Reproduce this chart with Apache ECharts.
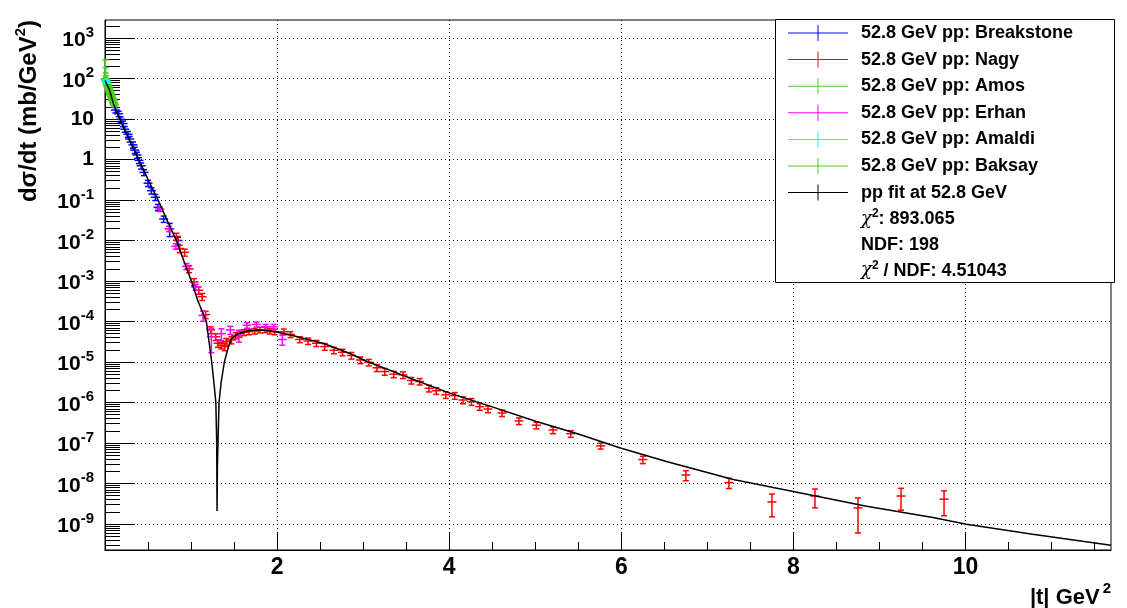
<!DOCTYPE html>
<html><head><meta charset="utf-8">
<script src="https://cdn.jsdelivr.net/npm/echarts@6/dist/echarts.min.js"></script>
<style>html,body{margin:0;padding:0;background:#fff}#c{width:1127px;height:608px}</style>
</head><body><div id="c"></div>
<script>
// ---------------- data (|t| in GeV^2, dsigma/dt in mb/GeV^2) ----------------
const breakstoneT = [0.121,0.159,0.182,0.209,0.229,0.267,0.287,0.325,0.345,0.372,0.395,0.42,0.453,0.5,0.539,0.585,0.616,0.682,0.752,0.848];
const breakstoneY = [16.6,13.5,9.8,7.7,5.6,4.2,3.2,2.3,1.7,1.29,0.95,0.70,0.48,0.26,0.17,0.117,0.066,0.034,0.0195,0.010];
const breakstoneErr = [2.5,2.0,1.5,1.2,0.9,0.7,0.5,0.4,0.3,0.22,0.16,0.12,0.08,0.045,0.03,0.02,0.012,0.006,0.007,0.002];

const nagyT = [0.83,0.868,0.926,0.977,1.035,1.09,1.13,1.17,1.228,1.286,1.313,1.352,1.391,1.41,1.469,1.519,1.565,1.615,1.674,1.74,1.80,1.86,1.914,1.972,2.077,2.155,2.263,2.36,2.457,2.553,2.66,2.76,2.863,2.968,3.065,3.16,3.25,3.355,3.463,3.56,3.657,3.765,3.85,3.96,4.064,4.16,4.258,4.355,4.45,4.614,4.81,5.013,5.206,5.412,5.76,6.25,6.75,7.25,7.75,8.25,8.75,9.25,9.75];
const nagyY = [1.26e-2,6.3e-3,5.1e-3,2.0e-3,9.5e-4,5.9e-4,4.1e-4,1.48e-4,6.2e-5,4.2e-5,2.9e-5,2.6e-5,2.4e-5,3.2e-5,3.5e-5,4.5e-5,5.0e-5,5.4e-5,5.6e-5,5.8e-5,6.2e-5,6.3e-5,5.8e-5,5.6e-5,5.6e-5,4.8e-5,3.6e-5,3.3e-5,2.9e-5,2.4e-5,1.95e-5,1.74e-5,1.45e-5,1.12e-5,9.8e-6,7.2e-6,5.8e-6,5.0e-6,4.8e-6,3.5e-6,3.3e-6,2.24e-6,1.95e-6,1.55e-6,1.48e-6,1.15e-6,1.05e-6,7.9e-7,6.9e-7,5.5e-7,3.5e-7,2.75e-7,2.1e-7,1.7e-7,8.5e-8,3.9e-8,1.62e-8,1.05e-8,3.5e-9,4.9e-9,2.5e-9,4.9e-9,4.1e-9];
const nagyErr = [2.5e-3,1.3e-3,1.0e-3,4e-4,1.9e-4,1.2e-4,8e-5,3e-5,1.2e-5,8e-6,6e-6,5e-6,5e-6,6e-6,7e-6,8e-6,9e-6,9e-6,9e-6,9e-6,1e-5,1e-5,9e-6,9e-6,9e-6,8e-6,6e-6,6e-6,5e-6,4.5e-6,3.5e-6,3.2e-6,2.7e-6,2.1e-6,1.8e-6,1.4e-6,1.1e-6,9e-7,9e-7,6.5e-7,6e-7,4.2e-7,3.6e-7,2.9e-7,2.8e-7,2.2e-7,2e-7,1.5e-7,1.3e-7,1e-7,6.5e-8,5.2e-8,4e-8,3.2e-8,1.4e-8,8e-9,4.5e-9,3e-9,2e-9,2.4e-9,1.9e-9,2.7e-9,2.5e-9];

const amosT = [0.004,0.006,0.008,0.010,0.013,0.016,0.020,0.025,0.030,0.035,0.040,0.045,0.050,0.055,0.060];
const amosY = [97,95,92,89,86,83,78,72,67,62,58,54,51,47,44];
const amosErrLo = [10,9,8,7,7,6,6,5,5,4,4,4,4,3,3];
const amosErrHi = [190,90,45,28,14,10,8,7,6,5,5,4,4,4,4];

const erhanT = [0.636,0.744,0.822,0.946,1.054,1.139,1.236,1.352,1.457,1.557,1.65,1.76,1.868,1.96,2.06];
const erhanY = [0.060,0.0195,0.0072,0.0023,7.1e-4,1.41e-4,4.2e-5,5.0e-5,6.2e-5,4.6e-5,8.1e-5,8.5e-5,7.4e-5,7.4e-5,3.6e-5];
const erhanErr = [0.008,0.003,0.0011,0.0004,1.2e-4,4e-5,2.5e-5,1.6e-5,1.4e-5,1.5e-5,1.3e-5,1.2e-5,1.1e-5,1.1e-5,1e-5];

const amaldiT = [0.010,0.020];
const amaldiY = [88,80];
const amaldiErr = [4,4];

const baksayT = [0.065,0.07,0.075,0.08,0.085,0.09,0.095,0.1,0.105,0.11];
const baksayY = [41,38,35.5,33,31,29,27,25,23.5,22];
const baksayErr = [3,3,3,2.5,2.5,2.5,2.5,2,2,2];

const fitT = [0,0.05,0.1,0.171,0.25,0.392,0.5,0.616,0.72,0.83,0.92,1.004,1.08,1.178,1.24,1.27,1.288,1.298,1.302,1.306,1.313,1.325,1.35,1.387,1.43,1.47,1.55,1.65,1.76,1.88,2.01,2.2,2.534,2.844,3.06,3.308,3.6,4.006,4.5,5.013,5.5,5.98,6.524,7.3,8.07,8.85,9.62,10.01,10.78,11.69];
const fitY = [89,54,23,10,4.2,1.0,0.32,0.1,0.032,0.01,3.0e-3,1e-3,3.2e-4,1e-4,1e-5,2.5e-6,1e-6,1e-7,2.1e-9,2.5e-8,1e-7,1e-6,3.2e-6,1e-5,2.2e-5,3.8e-5,5e-5,5.8e-5,6.2e-5,6.0e-5,5.4e-5,4.4e-5,2.9e-5,1.62e-5,1.0e-5,6.3e-6,3.6e-6,1.7e-6,7.8e-7,3.4e-7,1.66e-7,7.6e-8,3.5e-8,1.26e-8,5.9e-9,2.75e-9,1.45e-9,9.8e-10,5.6e-10,3.0e-10];

const seriesNames = ['52.8 GeV pp: Breakstone','52.8 GeV pp: Nagy','52.8 GeV pp: Amos','52.8 GeV pp: Erhan','52.8 GeV pp: Amaldi','52.8 GeV pp: Baksay','pp fit at 52.8 GeV'];
const statLines = [['χ','2',': 893.065'],['','','NDF: 198'],['χ','2',' / NDF: 4.51043']];

const xTickValues = [0,2,4,6,8,10];
const xLabelValues = [2,4,6,8,10];
const xMinorTickValues = [0.5,1,1.5,2.5,3,3.5,4.5,5,5.5,6.5,7,7.5,8.5,9,9.5,10.5,11,11.5];
const yDecades = [-9,-8,-7,-6,-5,-4,-3,-2,-1,0,1,2,3];
const yMinorFactors = [2,3,4,5,6,7,8,9];

// ---------------- setup ----------------
const X_MAX = 11.69;
const Y_MIN = -9.642, Y_MAX = 3.444;   // log10 range
const FONT = '"Liberation Sans", Arial, Helvetica, sans-serif';
const GREEN = '#4ccf1f';

const yMinor = [];
for (let n = -10; n <= 3; n++) {
  yMinorFactors.forEach(k => { const v = n + Math.log10(k); if (v > Y_MIN && v < Y_MAX) yMinor.push(v); });
}

function toLog(ts, ys, eLo, eHi) {
  return ts.map((t, i) => {
    const y = ys[i], lo = y - eLo[i];
    return [t, Math.log10(y), lo > 0 ? Math.log10(lo) : Y_MIN, Math.log10(y + eHi[i])];
  });
}

function makeRender(markerSize) {
  return function (params, api) {
    const t = api.value(0);
    const p = api.coord([t, api.value(1)]);
    const pl = api.coord([t, api.value(2)]);
    const ph = api.coord([t, api.value(3)]);
    const col = api.visual('color');
    const hw = 4.5, cw = 3;
    const st = () => ({ stroke: col, lineWidth: 1.5 });
    const kids = [
      { type: 'line', shape: { x1: p[0] - hw, y1: p[1], x2: p[0] + hw, y2: p[1] }, style: st() },
      { type: 'line', shape: { x1: p[0], y1: pl[1], x2: p[0], y2: ph[1] }, style: st() },
      { type: 'line', shape: { x1: p[0] - cw, y1: pl[1], x2: p[0] + cw, y2: pl[1] }, style: st() },
      { type: 'line', shape: { x1: p[0] - cw, y1: ph[1], x2: p[0] + cw, y2: ph[1] }, style: st() }
    ];
    if (markerSize) {
      kids.push({ type: 'rect', shape: { x: p[0] - markerSize / 2, y: p[1] - markerSize / 2, width: markerSize, height: markerSize }, style: { fill: col } });
    }
    return { type: 'group', children: kids };
  };
}

function errSeries(name, color, data, markerSize) {
  return { name, type: 'custom', renderItem: makeRender(markerSize), data, itemStyle: { color },
           encode: { x: 0, y: 1 }, xAxisIndex: 0, yAxisIndex: 0, silent: true, z: 2 };
}

const crossIcon = 'path://M0,7.5L60,7.5L60,8.5L0,8.5ZM29.5,0L30.5,0L30.5,16L29.5,16Z';

const supRich = {
  b: { fontSize: 21, fontWeight: 'bold', fontFamily: FONT, color: '#000', lineHeight: 26, verticalAlign: 'bottom' },
  s: { fontSize: 15, fontWeight: 'bold', fontFamily: FONT, color: '#000', lineHeight: 26, verticalAlign: 'top' }
};

const statGraphics = statLines.map((ln, i) => ({
  type: 'text', z: 10, x: 861, y: 218 + i * 25.8,
  style: {
    text: (ln[0] ? '{c|' + ln[0] + '}{s|' + ln[1] + '}' : '') + '{t|' + ln[2] + '}',
    verticalAlign: 'middle', align: 'left',
    rich: {
      c: { fontSize: 18, fontStyle: 'italic', fontFamily: '"DejaVu Serif", serif', fill: '#000', lineHeight: 20, verticalAlign: 'bottom' },
      s: { fontSize: 12, fontWeight: 'bold', fontFamily: FONT, fill: '#000', lineHeight: 20, verticalAlign: 'top' },
      t: { fontSize: 18, fontWeight: 'bold', fontFamily: FONT, fill: '#000', lineHeight: 20, verticalAlign: 'bottom' }
    }
  }
}));

const chart = echarts.init(document.getElementById('c'), null, { renderer: 'canvas' });
chart.setOption({
  animation: false,
  backgroundColor: '#fff',
  grid: { left: 105, top: 20, width: 1006, height: 530, show: true, borderColor: '#000', borderWidth: 1, backgroundColor: 'transparent' },
  xAxis: [
    { type: 'value', min: 0, max: X_MAX, position: 'bottom',
      axisLine: { show: true, onZero: false, lineStyle: { color: '#000', width: 1 } },
      axisTick: { show: true, inside: true, length: 17, customValues: xTickValues, lineStyle: { color: '#000', width: 1 } },
      axisLabel: { customValues: xLabelValues, fontSize: 23, fontWeight: 'bold', fontFamily: FONT, color: '#000', margin: 6 },
      splitLine: { show: true, lineStyle: { color: '#000', width: 1, type: [1, 3] } } },
    { type: 'value', min: 0, max: X_MAX, position: 'bottom',
      axisLine: { show: false, onZero: false },
      axisTick: { show: true, inside: true, length: 8, customValues: xMinorTickValues, lineStyle: { color: '#000', width: 1 } },
      axisLabel: { show: false }, splitLine: { show: false } }
  ],
  yAxis: [
    { type: 'value', min: Y_MIN, max: Y_MAX, position: 'left',
      axisLine: { show: true, onZero: false, lineStyle: { color: '#000', width: 1 } },
      axisTick: { show: true, inside: true, length: 30, customValues: yDecades, lineStyle: { color: '#000', width: 1 } },
      axisLabel: { customValues: yDecades, margin: 11, fontSize: 21, fontWeight: 'bold', fontFamily: FONT, color: '#000',
        formatter: v => { const n = Math.round(v); if (n === 0) return '1'; if (n === 1) return '10'; return '{b|10}{s|' + n + '}'; },
        rich: supRich },
      splitLine: { show: true, lineStyle: { color: '#000', width: 1, type: [1, 3] } } },
    { type: 'value', min: Y_MIN, max: Y_MAX, position: 'left',
      axisLine: { show: false, onZero: false },
      axisTick: { show: true, inside: true, length: 15, customValues: yMinor, lineStyle: { color: '#000', width: 1 } },
      axisLabel: { show: false }, splitLine: { show: false } }
  ],
  legend: {
    orient: 'vertical', left: 788, top: 24, itemWidth: 60, itemHeight: 16, itemGap: 8.6,
    selectedMode: false, z: 10, padding: 0,
    itemStyle: { borderWidth: 0 },
    data: seriesNames.map(n => ({ name: n, icon: crossIcon })),
    textStyle: { fontSize: 18, fontWeight: 'bold', fontFamily: FONT, color: '#000', padding: [0, 0, 0, 8] }
  },
  graphic: [
    { type: 'rect', z: 3, shape: { x: 775.5, y: 19.5, width: 339, height: 263 }, style: { fill: '#fff', stroke: '#000', lineWidth: 1 } },
    ...statGraphics,
    { type: 'text', z: 10, x: 27, y: 20, rotation: Math.PI / 2,
      style: { text: '{t|dσ/dt (mb/GeV}{s|2}{t|)}', align: 'right', verticalAlign: 'middle',
        rich: { t: { fontSize: 24, fontWeight: 'bold', fontFamily: FONT, fill: '#000', lineHeight: 28, verticalAlign: 'bottom' },
                s: { fontSize: 15, fontWeight: 'bold', fontFamily: FONT, fill: '#000', lineHeight: 28, verticalAlign: 'top' } } } },
    { type: 'text', z: 10, x: 1111, y: 595,
      style: { text: '{t||t| GeV}{s|2}', align: 'right', verticalAlign: 'middle',
        rich: { t: { fontSize: 22, fontWeight: 'bold', fontFamily: FONT, fill: '#000', lineHeight: 28, verticalAlign: 'bottom' },
                s: { fontSize: 15, fontWeight: 'bold', fontFamily: FONT, fill: '#000', lineHeight: 28, verticalAlign: 'top', padding: [0, 0, 0, 3] } } } }
  ],
  series: [
    errSeries(seriesNames[0], '#0000ff', toLog(breakstoneT, breakstoneY, breakstoneErr, breakstoneErr)),
    errSeries(seriesNames[1], '#ff0000', toLog(nagyT, nagyY, nagyErr, nagyErr)),
    errSeries(seriesNames[2], GREEN, toLog(amosT, amosY, amosErrLo, amosErrHi), 5),
    errSeries(seriesNames[3], '#ff00ff', toLog(erhanT, erhanY, erhanErr, erhanErr)),
    errSeries(seriesNames[4], '#00ffff', toLog(amaldiT, amaldiY, amaldiErr, amaldiErr), 4),
    errSeries(seriesNames[5], GREEN, toLog(baksayT, baksayY, baksayErr, baksayErr), 5),
    { name: seriesNames[6], type: 'line', data: fitT.map((t, i) => [t, Math.log10(fitY[i])]),
      showSymbol: false, symbol: 'none', itemStyle: { color: '#000' }, lineStyle: { color: '#000', width: 1.5 },
      xAxisIndex: 0, yAxisIndex: 0, silent: true, z: 3 }
  ]
});
</script></body></html>
